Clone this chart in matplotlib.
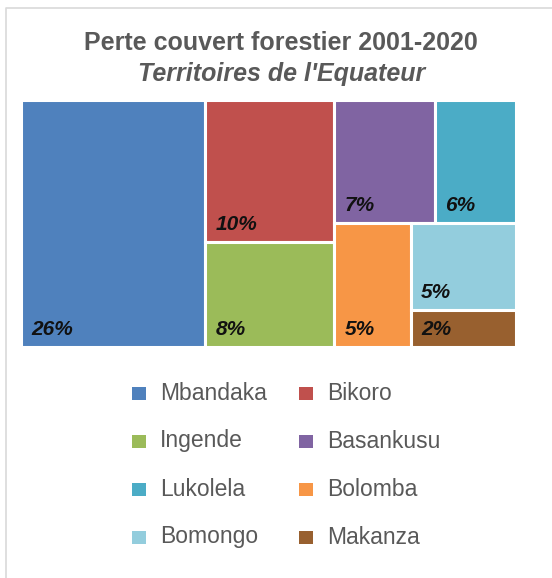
import matplotlib
matplotlib.use("Agg")
import matplotlib.pyplot as plt
from matplotlib.patches import Rectangle
from matplotlib.lines import Line2D

plt.rcParams["font.family"] = ["Liberation Sans", "DejaVu Sans"]

territoires = ["Mbandaka", "Bikoro", "Ingende", "Basankusu",
               "Lukolela", "Bolomba", "Bomongo", "Makanza"]
# share of forest cover loss (%), estimated from the tile areas
pertes_pct = [25.9, 10.4, 7.7, 7.0, 5.6, 5.4, 5.2, 2.2]
couleurs = ["#4F81BD", "#C0504D", "#9BBB59", "#8064A2",
            "#4BACC6", "#F79646", "#93CDDD", "#98602F"]

# arrangement of the treemap (indices into the lists above)
# 'h' = side by side, 'v' = stacked top to bottom
structure = ("h", [0, ("v", [1, 2]),
                   ("v", [("h", [3, 4]), ("h", [5, ("v", [6, 7])])])])


def total(node):
    if isinstance(node, int):
        return pertes_pct[node]
    return sum(total(n) for n in node[1])


def layout(node, x, y, w, h, out):
    if isinstance(node, int):
        out[node] = (x, y, w, h)
        return
    sens, enfants = node
    t = total(node)
    if sens == "h":
        cx = x
        for n in enfants:
            ww = w * total(n) / t
            layout(n, cx, y, ww, h, out)
            cx += ww
    else:
        cy = y + h
        for n in enfants:
            hh = h * total(n) / t
            cy -= hh
            layout(n, x, cy, w, hh, out)


W, H = 552, 578
fig = plt.figure(figsize=(W / 100, H / 100), dpi=100)

# light frame on the left and top
fig.add_artist(Line2D([6 / W, 6 / W, 1], [0, 1 - 8 / H, 1 - 8 / H],
                      color="#D9D9D9", lw=1.2, transform=fig.transFigure))

ax = fig.add_axes([20.5 / W, 1 - 346.5 / H, 495 / W, 246 / H])
ax.set_xlim(0, 1)
ax.set_ylim(0, 1)
ax.axis("off")

rects = {}
layout(structure, 0, 0, 1, 1, rects)
for i in range(len(territoires)):
    x, y, w, h = rects[i]
    ax.add_patch(Rectangle((x, y), w, h, facecolor=couleurs[i],
                           edgecolor="white", lw=2.2))
    ax.annotate(f"{pertes_pct[i]:.0f}%", (x, y), xytext=(7.5, 8.5),
                textcoords="offset points", ha="left", va="baseline",
                fontsize=15, fontweight="bold", fontstyle="italic",
                color="#111111")

fig.text(281 / W, 1 - 43 / H, "Perte couvert forestier 2001-2020",
         ha="center", va="center", fontsize=18, fontweight="bold",
         color="#595959")
fig.text(282 / W, 1 - 74 / H, "Territoires de l'Equateur",
         ha="center", va="center", fontsize=18, fontweight="bold",
         fontstyle="italic", color="#595959")

# legend, two columns
for i, nom in enumerate(territoires):
    col, row = i % 2, i // 2
    yc = 393 + row * 48
    xm = 132 + col * 167
    fig.add_artist(Rectangle((xm / W, 1 - (yc + 6.5) / H), 14 / W, 13 / H,
                             facecolor=couleurs[i], edgecolor="none",
                             transform=fig.transFigure))
    fig.text((xm + 28) / W, 1 - yc / H, nom, ha="left", va="center",
             fontsize=16.5, color="#595959")

fig.savefig("out.png", dpi=100, facecolor="white")
